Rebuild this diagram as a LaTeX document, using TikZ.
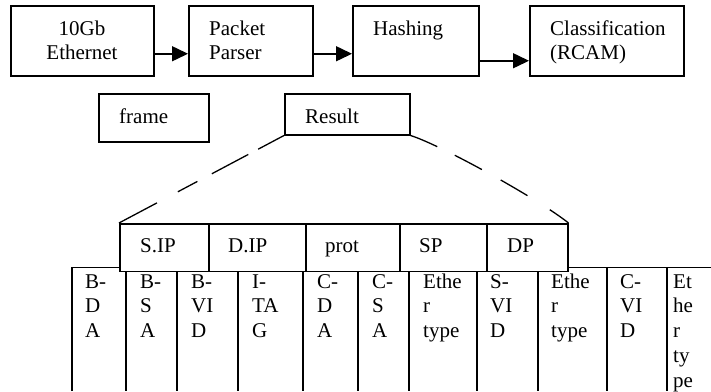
\documentclass[tikz,border=0pt]{standalone}
\usepackage{fontspec}
\setmainfont{Liberation Serif}[Ligatures=NoCommon]
\usetikzlibrary{arrows.meta}
% stacked lines, left aligned (#1 = line pitch); baseline is the first line
\newcommand\stk[2]{\vtop{\baselineskip=#1\lineskiplimit=-100pt\halign{##\hfil\cr#2\crcr}}}
% stacked lines, centred
\newcommand\cstk[2]{\vtop{\baselineskip=#1\lineskiplimit=-100pt\halign{\hfil##\hfil\cr#2\crcr}}}
\begin{document}
\begin{tikzpicture}[x=1pt, y=-1pt,
  font=\fontsize{21}{24}\selectfont,
  blk/.style={draw, line width=1.5pt, inner sep=0pt, anchor=north west},
  lbl/.style={inner sep=0pt, anchor=base west},
  clbl/.style={inner sep=0pt, anchor=base},
  arr/.style={-{Triangle[length=16pt,width=15pt]}, line width=1.5pt},
  zoomline/.style={line width=1.3pt},
  tbl/.style={line width=1.8pt}]
\useasboundingbox (0,0) rectangle (711,391);

% processing pipeline
\node[blk, minimum width=143pt, minimum height=70pt] (eth) at (10,5) {};
\node[clbl] (ethtxt) at (82,35) {\cstk{24pt}{10Gb\cr Ethernet}};
\node[blk, minimum width=124pt, minimum height=70pt] (pp) at (188,5) {};
\node[lbl] (pptxt) at (209,35) {\stk{24pt}{Packet\cr Parser}};
\node[blk, minimum width=126pt, minimum height=70pt] (hash) at (352,5) {};
\node[lbl] (hashtxt) at (373,35) {Hashing};
\node[blk, minimum width=154pt, minimum height=70pt] (cls) at (529,5) {};
\node[lbl] (clstxt) at (550,35) {\stk{24pt}{Classification\cr (RCAM)}};

\draw[arr] ([yshift=-13pt]eth.east) -- ([yshift=-13pt]pp.west);
\draw[arr] ([yshift=-13pt]pp.east) -- ([yshift=-13pt]hash.west);
\draw[arr] ([yshift=-20pt]hash.east) -- ([yshift=-20pt]cls.west);

% frame and result
\node[blk, minimum width=110pt, minimum height=48pt] (frm) at (98,93) {};
\node[lbl] (frmtxt) at (119,123) {frame};
\node[blk, minimum width=125pt, minimum height=41pt] (res) at (284,93) {};
\node[lbl] (restxt) at (305,123) {Result};

% frame header table
\draw[tbl] (72,391) -- (72,267.5) -- (711,267.5);
\foreach \x in {126,177,238,303,358,409,477,538,607,667}
  \draw[tbl] (\x,267.5) -- (\x,391);

\node[lbl] (c1)  at (85,288)  {\stk{24.75pt}{B-\cr D\cr A}};
\node[lbl] (c2)  at (140,288) {\stk{24.75pt}{B-\cr S\cr A}};
\node[lbl] (c3)  at (191,288) {\stk{24.75pt}{B-\cr VI\cr D}};
\node[lbl] (c4)  at (252,288) {\stk{24.75pt}{I-\cr TA\cr G}};
\node[lbl] (c5)  at (317,288) {\stk{24.75pt}{C-\cr D\cr A}};
\node[lbl] (c6)  at (372,288) {\stk{24.75pt}{C-\cr S\cr A}};
\node[lbl] (c7)  at (423,288) {\stk{24.75pt}{Ethe\cr r\cr type}};
\node[lbl] (c8)  at (490,288) {\stk{24.75pt}{S-\cr VI\cr D}};
\node[lbl] (c9)  at (551,288) {\stk{24.75pt}{Ethe\cr r\cr type}};
\node[lbl] (c10) at (620,288) {\stk{24.75pt}{C-\cr VI\cr D}};
\node[lbl] (c11) at (673,288) {\stk{24.75pt}{Et\cr he\cr r\cr ty\cr pe}};

% result fields
\node[blk, fill=white, minimum width=89pt, minimum height=47.5pt] (f1) at (119,223) {};
\node[blk, fill=white, minimum width=97pt, minimum height=47.5pt] (f2) at (208,223) {};
\node[blk, fill=white, minimum width=94pt, minimum height=47.5pt] (f3) at (305,223) {};
\node[blk, fill=white, minimum width=87pt, minimum height=47.5pt] (f4) at (399,223) {};
\node[blk, fill=white, minimum width=81pt, minimum height=47.5pt] (f5) at (486,223) {};
\node[lbl] (f1txt) at (140,252) {S.IP};
\node[lbl] (f2txt) at (228,252) {D.IP};
\node[lbl] (f3txt) at (325,252) {prot};
\node[lbl] (f4txt) at (419,252) {SP};
\node[lbl] (f5txt) at (507,252) {DP};

% expansion of the result
\draw[zoomline, dash pattern=on 29.2pt off 11.2pt on 41.3pt off 16.3pt on 22.2pt off 23.6pt on 60pt]
  (res.south west) -- (f1.north west);
\draw[zoomline, dash pattern=on 29pt off 19.5pt on 30.7pt off 21.5pt on 31pt off 26.4pt on 40pt]
  (res.south east) .. controls +(30,9.3) and +(-30,-24) .. (f5.north east);
\end{tikzpicture}
\end{document}
